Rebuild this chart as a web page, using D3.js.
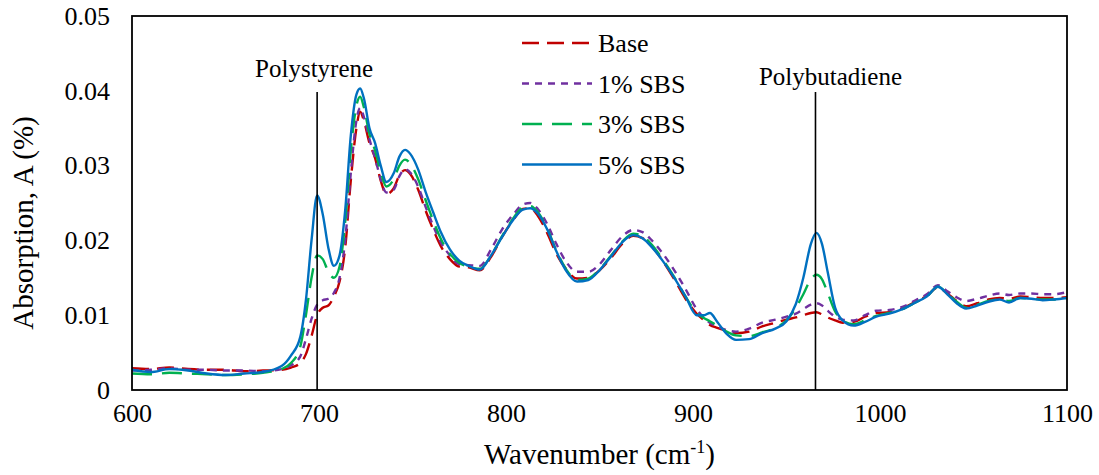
<!DOCTYPE html>
<html><head><meta charset="utf-8">
<script src="https://cdn.jsdelivr.net/npm/d3@7"></script>
<style>html,body{margin:0;padding:0;background:#fff;}svg{display:block;}</style>
</head><body>
<svg id="chart" width="1099" height="475"></svg>
<script>
const wavenumbers = [600,610,620,630,640,650,660,670,680,685,690,693,696,699,702,705,708,711,714,717,720,722,724,727,730,733,736,740,743,746,749,753,757,761,765,770,775,780,786,792,798,804,809,813,817,822,827,832,838,844,850,856,862,868,873,878,884,890,896,902,906,909,913,918,923,930,937,944,950,955,959,963,966,969,972,976,980,986,992,998,1005,1012,1019,1025,1031,1036,1041,1046,1052,1058,1064,1069,1075,1081,1087,1093,1100];

const base = [0.0029,0.0028,0.0030,0.0028,0.0027,0.0027,0.0025,0.0026,0.0027,0.0030,0.0036,0.0048,0.0072,0.0100,0.0110,0.0113,0.0125,0.0145,0.0190,0.0280,0.0350,0.0372,0.0360,0.0330,0.0310,0.0280,0.0262,0.0270,0.0287,0.0294,0.0288,0.0268,0.0240,0.0215,0.0193,0.0175,0.0165,0.0164,0.0160,0.0178,0.0205,0.0228,0.0242,0.0243,0.0233,0.0210,0.0182,0.0162,0.0149,0.0150,0.0160,0.0176,0.0195,0.0206,0.0203,0.0192,0.0172,0.0148,0.0122,0.0102,0.0093,0.0087,0.0083,0.0079,0.0076,0.0078,0.0085,0.0090,0.0094,0.0097,0.0100,0.0103,0.0104,0.0101,0.0097,0.0093,0.0090,0.0091,0.0098,0.0103,0.0104,0.0109,0.0118,0.0126,0.0137,0.0129,0.0119,0.0112,0.0116,0.0121,0.0123,0.0122,0.0125,0.0124,0.0123,0.0123,0.0124];

const sbs1 = [0.0026,0.0027,0.0029,0.0027,0.0027,0.0026,0.0026,0.0025,0.0028,0.0033,0.0045,0.0068,0.0095,0.0114,0.0120,0.0122,0.0130,0.0150,0.0200,0.0290,0.0360,0.0377,0.0365,0.0335,0.0310,0.0282,0.0264,0.0268,0.0286,0.0295,0.0290,0.0272,0.0245,0.0220,0.0198,0.0180,0.0168,0.0167,0.0166,0.0188,0.0215,0.0235,0.0248,0.0250,0.0242,0.0222,0.0195,0.0172,0.0158,0.0158,0.0168,0.0187,0.0205,0.0214,0.0211,0.0200,0.0182,0.0160,0.0135,0.0108,0.0096,0.0090,0.0085,0.0080,0.0078,0.0082,0.0090,0.0094,0.0098,0.0102,0.0108,0.0114,0.0116,0.0113,0.0106,0.0098,0.0094,0.0093,0.0100,0.0106,0.0107,0.0111,0.0120,0.0128,0.0140,0.0132,0.0124,0.0119,0.0122,0.0126,0.0129,0.0127,0.0129,0.0129,0.0128,0.0128,0.0131];

const sbs3 = [0.0022,0.0021,0.0023,0.0022,0.0021,0.0020,0.0021,0.0023,0.0028,0.0036,0.0058,0.0100,0.0150,0.0180,0.0175,0.0158,0.0150,0.0165,0.0225,0.0320,0.0380,0.0392,0.0378,0.0342,0.0320,0.0292,0.0272,0.0282,0.0300,0.0308,0.0302,0.0282,0.0254,0.0227,0.0203,0.0182,0.0170,0.0165,0.0162,0.0180,0.0206,0.0230,0.0244,0.0246,0.0238,0.0216,0.0186,0.0162,0.0147,0.0149,0.0161,0.0179,0.0198,0.0209,0.0206,0.0194,0.0174,0.0151,0.0125,0.0103,0.0096,0.0092,0.0086,0.0078,0.0073,0.0072,0.0077,0.0083,0.0093,0.0110,0.0128,0.0148,0.0154,0.0148,0.0130,0.0105,0.0093,0.0088,0.0093,0.0099,0.0103,0.0108,0.0117,0.0125,0.0138,0.0129,0.0118,0.0110,0.0114,0.0119,0.0121,0.0119,0.0123,0.0122,0.0121,0.0121,0.0123];

const sbs5 = [0.0027,0.0024,0.0028,0.0026,0.0022,0.0020,0.0022,0.0024,0.0032,0.0046,0.0071,0.0120,0.0200,0.0260,0.0235,0.0190,0.0166,0.0180,0.0240,0.0340,0.0395,0.0403,0.0390,0.0350,0.0330,0.0300,0.0278,0.0290,0.0312,0.0321,0.0315,0.0295,0.0265,0.0238,0.0212,0.0188,0.0173,0.0166,0.0161,0.0180,0.0205,0.0228,0.0241,0.0243,0.0236,0.0215,0.0185,0.0160,0.0145,0.0147,0.0160,0.0178,0.0197,0.0207,0.0203,0.0191,0.0172,0.0150,0.0125,0.0100,0.0100,0.0103,0.0091,0.0075,0.0067,0.0068,0.0076,0.0082,0.0092,0.0115,0.0150,0.0195,0.0210,0.0195,0.0158,0.0110,0.0093,0.0086,0.0091,0.0098,0.0102,0.0108,0.0117,0.0125,0.0138,0.0128,0.0116,0.0109,0.0113,0.0118,0.0121,0.0117,0.0123,0.0122,0.0120,0.0121,0.0123];

const seriesNames = ["Base","1% SBS","3% SBS","5% SBS"];
const seriesValues = [base, sbs1, sbs3, sbs5];
const seriesColors = ["#C00000","#7030A0","#00B050","#0070C0"];
const seriesDash = ["17,8","7,6","20,10",null];

const xTicks = [600,700,800,900,1000,1100];
const yTicks = [0,0.01,0.02,0.03,0.04,0.05];

const markers = [{label:"Polystyrene", wn:699, labelY:77, dx:-3}, {label:"Polybutadiene", wn:965.5, labelY:85, dx:15}];

const FONT = "Liberation Serif";
const svg = d3.select("#chart");
const m = {left:132, top:16, right:32, bottom:85};
const W = 1099 - m.left - m.right, H = 475 - m.top - m.bottom;
const x = d3.scaleLinear().domain([600,1100]).range([m.left, m.left+W]);
const y = d3.scaleLinear().domain([0,0.05]).range([m.top+H, m.top]);

const xAxis = svg.append("g").attr("transform",`translate(0,${m.top+H})`)
  .call(d3.axisBottom(x).tickValues(xTicks).tickSize(0).tickPadding(14).tickFormat(d3.format("d")));
xAxis.attr("font-family",FONT).attr("font-size",26);
xAxis.select(".domain").remove();
xAxis.selectAll("text").attr("fill","#000");

const yAxis = svg.append("g").attr("transform",`translate(${m.left},0)`)
  .call(d3.axisLeft(y).tickValues(yTicks).tickSize(0).tickPadding(22).tickFormat(d => d===0 ? "0" : d3.format(".2f")(d)));
yAxis.attr("font-family",FONT).attr("font-size",26);
yAxis.select(".domain").remove();
yAxis.selectAll("text").attr("fill","#000");

const line = d3.line().x((d,i)=>x(wavenumbers[i])).y(d=>y(d)).curve(d3.curveMonotoneX);
seriesValues.forEach((vals,k)=>{
  svg.append("path").datum(vals).attr("d",line).attr("fill","none")
    .attr("stroke",seriesColors[k]).attr("stroke-width",2.4)
    .attr("stroke-dasharray",seriesDash[k]).attr("stroke-linejoin","round");
});

markers.forEach(mk=>{
  svg.append("line").attr("x1",x(mk.wn)).attr("x2",x(mk.wn)).attr("y1",92).attr("y2",m.top+H)
    .attr("stroke","#000").attr("stroke-width",1.6);
  svg.append("text").attr("x",x(mk.wn)+mk.dx).attr("y",mk.labelY).attr("text-anchor","middle")
    .attr("font-family",FONT).attr("font-size",25).attr("fill","#000").text(mk.label);
});

svg.append("rect").attr("x",m.left).attr("y",m.top).attr("width",W).attr("height",H)
  .attr("fill","none").attr("stroke","#000").attr("stroke-width",1.8);

const lg = svg.append("g").attr("font-family",FONT);
seriesNames.forEach((name,k)=>{
  const cy = 43 + k*40.5;
  lg.append("line").attr("x1",522).attr("x2",592).attr("y1",cy).attr("y2",cy)
    .attr("stroke",seriesColors[k]).attr("stroke-width",2.4).attr("stroke-dasharray",seriesDash[k]);
  lg.append("text").attr("x",598).attr("y",cy+9).attr("font-size",26).attr("fill","#000").text(name);
});

const xt = svg.append("text").attr("x",x(850)).attr("y",464).attr("text-anchor","middle")
  .attr("font-family",FONT).attr("font-size",29).attr("fill","#000");
xt.append("tspan").text("Wavenumber (cm");
xt.append("tspan").attr("font-size",18).attr("dy",-11).text("-1");
xt.append("tspan").attr("dy",11).text(")");

svg.append("text").attr("transform",`translate(33,${m.top+H/2+20}) rotate(-90)`).attr("text-anchor","middle")
  .attr("font-family",FONT).attr("font-size",29).attr("fill","#000").text("Absorption, A (%)");
</script>
</body></html>
